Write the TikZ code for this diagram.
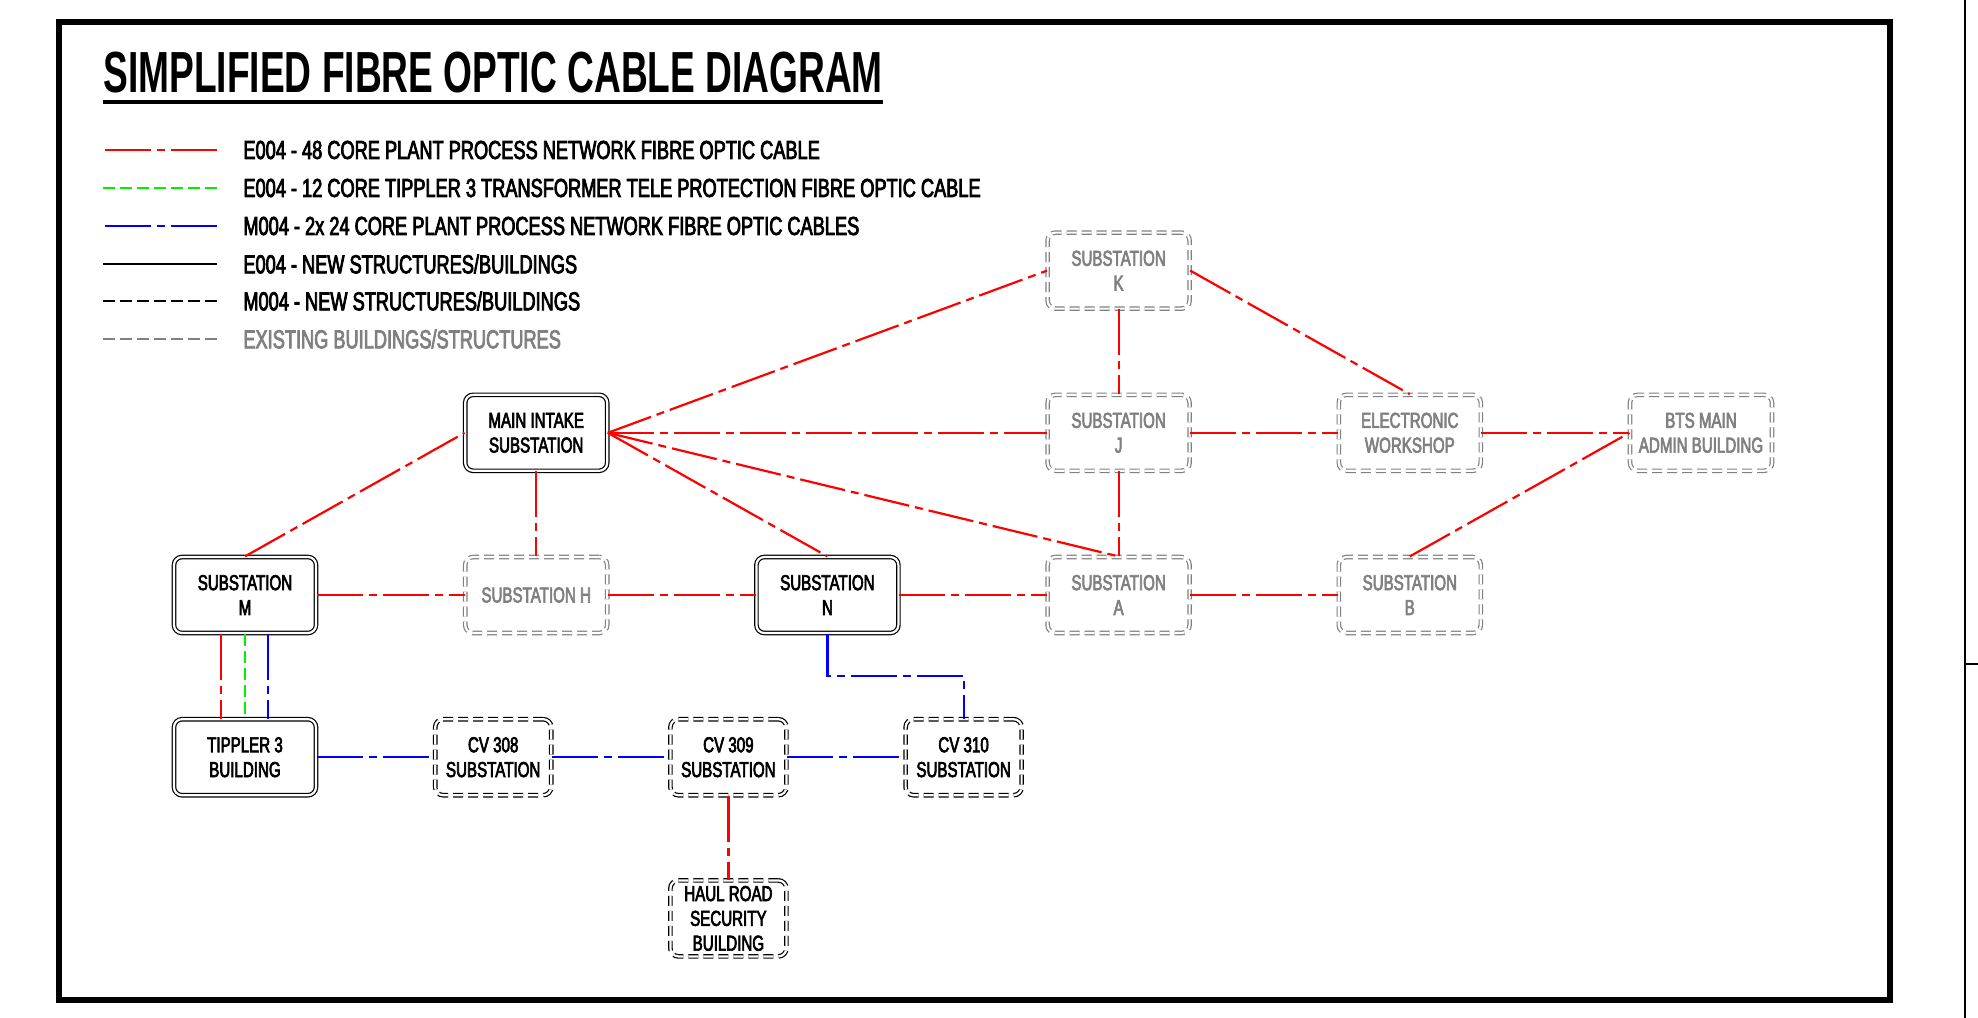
\documentclass[tikz,border=0pt]{standalone}
\usepackage{fontspec}
\usetikzlibrary{positioning, calc}
\newfontfamily\cadfont{Liberation Sans}[FakeStretch=0.70, FakeBold=3]
\newfontfamily\cadhead{Liberation Sans}[FakeStretch=0.64]
\definecolor{CabRed}  {HTML}{FF0000}
\definecolor{CabGrn}  {HTML}{00F000}
\definecolor{CabBlu}  {HTML}{0000FF}
\definecolor{OldGrey} {HTML}{808080}

\begin{document}
\begin{tikzpicture}[
  x=0.5pt, y=-0.5pt,
  mbox/.style={draw, double, double distance=1.1pt, line width=0.6pt,
               rounded corners=4pt, minimum width=71pt, minimum height=38pt,
               align=center, inner sep=0pt,
               font=\cadfont\fontsize{10.8}{12.4}\selectfont},
  ebox/.style={mbox},
  mdbox/.style={mbox, minimum width=58pt, dash pattern=on 5pt off 2.5pt},
  xbox/.style={mbox, draw=OldGrey, text=OldGrey, dash pattern=on 5pt off 2.5pt},
  legtxt/.style={anchor=west, inner sep=0pt,
                 font=\cadfont\fontsize{13}{13}\selectfont},
  redc/.style={draw=CabRed, line width=1.1pt,
               dash pattern=on 23pt off 3pt on 4pt off 3pt},
  bluc/.style={redc, draw=CabBlu},
  grnc/.style={draw=CabGrn, line width=1.1pt, dash pattern=on 6pt off 2.5pt},
  node distance=42.5pt and 74pt,
]
  \useasboundingbox (0,0) rectangle (1978,1018);
  \draw[line width=3pt] (59,22) rectangle (1890,1000);
  \draw[line width=1pt] (1965,0) -- (1965,1018);
  \draw[line width=1pt] (1965,664) -- (1978,664);

  % title and legend
  \node[anchor=base west, inner sep=0pt,
        font=\cadhead\bfseries\fontsize{29}{29}\selectfont] (title) at (103,92)
    {SIMPLIFIED FIBRE OPTIC CABLE DIAGRAM};
  \draw[line width=2pt] ([yshift=-4.5pt]title.south west)
    -- ([yshift=-4.5pt]title.south east);

  \node[legtxt] (lgA) at (243,150) {E004 - 48 CORE PLANT PROCESS NETWORK FIBRE OPTIC CABLE};
  \node[legtxt] (lgB) at (243,188) {E004 - 12 CORE TIPPLER 3 TRANSFORMER TELE PROTECTION FIBRE OPTIC CABLE};
  \node[legtxt] (lgC) at (243,226) {M004 - 2x 24 CORE PLANT PROCESS NETWORK FIBRE OPTIC CABLES};
  \node[legtxt] (lgD) at (243,264) {E004 - NEW STRUCTURES/BUILDINGS};
  \node[legtxt] (lgE) at (243,301) {M004 - NEW STRUCTURES/BUILDINGS};
  \node[legtxt, text=OldGrey] (lgF) at (243,339) {EXISTING BUILDINGS/STRUCTURES};

  \draw[redc] ([xshift=-13pt]lgA.west) -- ++(-114,0);
  \draw[grnc] ([xshift=-13pt]lgB.west) -- ++(-114,0);
  \draw[bluc] ([xshift=-13pt]lgC.west) -- ++(-114,0);
  \draw[line width=1pt] ([xshift=-13pt]lgD.west) -- ++(-114,0);
  \draw[line width=1pt, dash pattern=on 6pt off 2.5pt]
    ([xshift=-13pt]lgE.west) -- ++(-114,0);
  \draw[line width=1pt, OldGrey, dash pattern=on 6pt off 2.5pt]
    ([xshift=-13pt]lgF.west) -- ++(-114,0);

  % buildings
  \node[ebox] (ssm) at (245,595) {SUBSTATION\\M};
  \node[xbox, right=of ssm] (ssh) {SUBSTATION H};
  \node[ebox, right=of ssh] (ssn) {SUBSTATION\\N};
  \node[xbox, right=of ssn] (ssa) {SUBSTATION\\A};
  \node[xbox, right=of ssa] (ssb) {SUBSTATION\\B};
  \node[ebox, above=of ssh] (mis) {MAIN INTAKE\\SUBSTATION};
  \node[xbox, above=of ssa] (ssj) {SUBSTATION\\J};
  \node[xbox, above=of ssj] (ssk) {SUBSTATION\\K};
  \node[xbox, above=of ssb] (ews) {ELECTRONIC\\WORKSHOP};
  \node[xbox, right=of ews] (bts) {BTS MAIN\\ADMIN BUILDING};
  \node[ebox, below=of ssm] (tip) {TIPPLER 3\\BUILDING};
  \node[mdbox, right=59pt of tip] (cv308) {CV 308\\SUBSTATION};
  \node[mdbox, right=59pt of cv308] (cv309) {CV 309\\SUBSTATION};
  \node[mdbox, right=59pt of cv309] (cv310) {CV 310\\SUBSTATION};
  \node[mdbox, below=42pt of cv309] (haul) {HAUL ROAD\\SECURITY\\BUILDING};

  % cables
  \draw[redc] (ssm.north) -- (mis.west);
  \draw[redc] (ssm.east) -- (ssh.west);
  \draw[redc] (mis.south) -- (ssh.north);
  \draw[redc] (ssh.east) -- (ssn.west);
  \draw[redc] (mis.east) -- (ssk.west);
  \draw[redc] (mis.east) -- (ssj.west);
  \draw[redc] (mis.east) -- (ssa.north);
  \draw[redc] (mis.east) -- (ssn.north);
  \draw[redc] (ssn.east) -- (ssa.west);
  \draw[redc] (ssk.south) -- (ssj.north);
  \draw[redc] (ssj.south) -- (ssa.north);
  \draw[redc] (ssk.east) -- (ews.north);
  \draw[redc] (ssj.east) -- (ews.west);
  \draw[redc] (ssa.east) -- (ssb.west);
  \draw[redc] (ews.east) -- (bts.west);
  \draw[redc] (ssb.north) -- (bts.west);
  \draw[redc] (cv309.south) -- (haul.north);
  \draw[redc] ([xshift=-12pt]ssm.south) -- ([xshift=-12pt]tip.north);
  \draw[grnc] (ssm.south) -- (tip.north);
  \draw[bluc] ([xshift=11.5pt]ssm.south) -- ([xshift=11.5pt]tip.north);
  \draw[bluc] (tip.east) -- (cv308.west);
  \draw[bluc] (cv308.east) -- (cv309.west);
  \draw[bluc] (cv309.east) -- (cv310.west);
  \draw[bluc] (ssn.south) |- ($(ssn.south)!0.5!(cv310.north)$) -| (cv310.north);
\end{tikzpicture}
\end{document}
